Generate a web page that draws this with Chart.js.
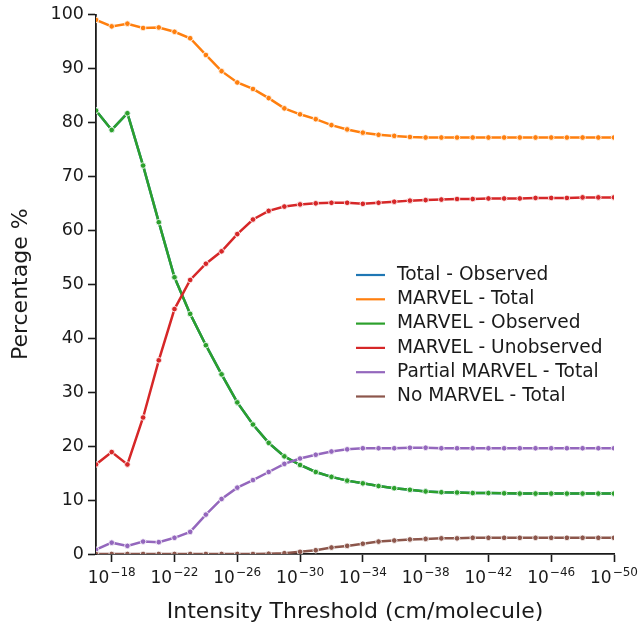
<!DOCTYPE html>
<html lang="es">
<head>
<meta charset="UTF-8">
<title>Umbral de intensidad</title>
<script src="https://cdn.jsdelivr.net/npm/chart.js@4.4.1/dist/chart.umd.min.js"></script>
<style>
    html, body { margin: 0; padding: 0; background: #ffffff; }
    #grafico { display: block; }
</style>
</head>
<body>
<canvas id="grafico" width="642" height="627"></canvas>
<script>
// Exponentes del umbral de intensidad (10^n cm/molecule), uno por década
const exponentes = [-17, -18, -19, -20, -21, -22, -23, -24, -25, -26, -27, -28, -29, -30, -31, -32, -33,
    -34, -35, -36, -37, -38, -39, -40, -41, -42, -43, -44, -45, -46, -47, -48, -49, -50];

// Marcas del eje X y del eje Y
const ticksExponentes = [-18, -22, -26, -30, -34, -38, -42, -46, -50];
const ticksPorcentaje = [0, 10, 20, 30, 40, 50, 60, 70, 80, 90, 100];

// Porcentajes por serie
const totalObservado = [82.2, 78.6, 81.7, 72.0, 61.5, 51.3, 44.5, 38.7, 33.3, 28.1, 24.0, 20.6, 18.1, 16.5, 15.2, 14.3, 13.6,
    13.1, 12.6, 12.2, 11.9, 11.6, 11.45, 11.4, 11.3, 11.3, 11.25, 11.2, 11.2, 11.2, 11.2, 11.2, 11.2, 11.2];
const marvelTotal = [99.0, 97.8, 98.3, 97.5, 97.6, 96.8, 95.6, 92.5, 89.5, 87.4, 86.2, 84.5, 82.6, 81.5, 80.6, 79.5, 78.7,
    78.1, 77.7, 77.5, 77.3, 77.2, 77.2, 77.2, 77.2, 77.2, 77.2, 77.2, 77.2, 77.2, 77.2, 77.2, 77.2, 77.2];
const marvelObservado = [82.2, 78.6, 81.7, 72.0, 61.5, 51.3, 44.5, 38.7, 33.3, 28.1, 24.0, 20.6, 18.1, 16.5, 15.2, 14.3, 13.6,
    13.1, 12.6, 12.2, 11.9, 11.6, 11.45, 11.4, 11.3, 11.3, 11.25, 11.2, 11.2, 11.2, 11.2, 11.2, 11.2, 11.2];
const marvelNoObservado = [16.6, 18.9, 16.6, 25.3, 35.9, 45.4, 50.8, 53.8, 56.1, 59.3, 62.0, 63.6, 64.4, 64.8, 65.0, 65.1, 65.1,
    64.9, 65.1, 65.3, 65.5, 65.6, 65.7, 65.8, 65.8, 65.9, 65.9, 65.9, 66.0, 66.0, 66.0, 66.1, 66.1, 66.1];
const marvelParcial = [0.8, 2.1, 1.5, 2.3, 2.2, 3.0, 4.1, 7.3, 10.2, 12.3, 13.7, 15.2, 16.7, 17.7, 18.4, 19.0, 19.4,
    19.6, 19.6, 19.6, 19.7, 19.7, 19.6, 19.6, 19.6, 19.6, 19.6, 19.6, 19.6, 19.6, 19.6, 19.6, 19.6, 19.6];
const sinMarvel = [0, 0, 0, 0, 0, 0, 0, 0, 0, 0, 0.0, 0.05, 0.15, 0.4, 0.7, 1.2, 1.5,
    1.9, 2.3, 2.5, 2.7, 2.8, 2.9, 2.9, 3.0, 3.0, 3.0, 3.0, 3.0, 3.0, 3.0, 3.0, 3.0, 3.0];

const etiquetas = ['Total - Observed', 'MARVEL - Total', 'MARVEL - Observed', 'MARVEL - Unobserved',
    'Partial MARVEL - Total', 'No MARVEL - Total'];
const colores = ['#1f77b4', '#ff7f0e', '#2ca02c', '#d62728', '#9467bd', '#8c564b'];

const FUENTE = '"DejaVu Sans", "Liberation Sans", sans-serif';
const COLOR_TEXTO = '#1a1a1a';

// Etiquetas del eje X como potencia de diez: "10" y el exponente en superíndice
const etiquetasPotencia = {
    id: 'etiquetasPotencia',
    afterDraw(chart) {
        const ctx = chart.ctx;
        const escala = chart.scales.x;
        const yBase = escala.top + 29;
        ctx.save();
        ctx.fillStyle = COLOR_TEXTO;
        ctx.textBaseline = 'alphabetic';
        ctx.textAlign = 'left';
        escala.ticks.forEach(t => {
            const base = '10';
            const exp = '\u2212' + Math.abs(t.value);
            ctx.font = '17px ' + FUENTE;
            const anchoBase = ctx.measureText(base).width;
            ctx.font = '12px ' + FUENTE;
            const anchoExp = ctx.measureText(exp).width;
            const x = escala.getPixelForValue(t.value) - (anchoBase + 1 + anchoExp) / 2;
            ctx.font = '17px ' + FUENTE;
            ctx.fillText(base, x, yBase);
            ctx.font = '12px ' + FUENTE;
            ctx.fillText(exp, x + anchoBase + 1, yBase - 7);
        });
        ctx.restore();
    }
};

// Leyenda sin marco dentro del área del gráfico
const leyendaInterna = {
    id: 'leyendaInterna',
    afterDatasetsDraw(chart) {
        const ctx = chart.ctx;
        const area = chart.chartArea;
        const x0 = area.left + 260;
        const y0 = area.top + 260.5;
        ctx.save();
        ctx.font = '18.6px ' + FUENTE;
        ctx.textBaseline = 'middle';
        ctx.textAlign = 'left';
        chart.data.datasets.forEach((ds, i) => {
            const y = y0 + i * 24.3;
            ctx.strokeStyle = ds.borderColor;
            ctx.lineWidth = 2.2;
            ctx.beginPath();
            ctx.moveTo(x0, y);
            ctx.lineTo(x0 + 29, y);
            ctx.stroke();
            ctx.fillStyle = COLOR_TEXTO;
            ctx.fillText(ds.label, x0 + 41, y);
        });
        ctx.restore();
    }
};

const series = [totalObservado, marvelTotal, marvelObservado, marvelNoObservado, marvelParcial, sinMarvel];

const datasets = series.map((valores, i) => ({
    label: etiquetas[i],
    data: valores.map((v, j) => ({ x: exponentes[j], y: v })),
    borderColor: colores[i],
    backgroundColor: colores[i],
    borderWidth: 2.5,
    pointRadius: 2.8,
    pointBorderWidth: 1,
    pointBorderColor: 'rgba(255,255,255,0.8)',
    pointBackgroundColor: colores[i],
    tension: 0,
    fill: false,
    // las series posteriores se dibujan encima
    order: series.length - i
}));

const ctxGrafico = document.getElementById('grafico').getContext('2d');
new Chart(ctxGrafico, {
    type: 'line',
    data: { datasets: datasets },
    options: {
        responsive: false,
        animation: false,
        layout: { padding: { top: 14.5, right: 28, bottom: 0, left: 0 } },
        plugins: {
            legend: { display: false },
            tooltip: { enabled: false }
        },
        scales: {
            x: {
                type: 'linear',
                reverse: true,
                min: -50,
                max: -17,
                afterBuildTicks: scale => {
                    scale.ticks = ticksExponentes.map(v => ({ value: v }));
                },
                afterFit: scale => { scale.height = 73; },
                grid: {
                    drawOnChartArea: false,
                    drawTicks: true,
                    tickLength: 8,
                    tickWidth: 1.6,
                    tickColor: COLOR_TEXTO
                },
                border: { display: true, color: COLOR_TEXTO, width: 1.8 },
                ticks: {
                    // el texto lo dibuja etiquetasPotencia
                    callback: () => '',
                    maxRotation: 0,
                    autoSkip: false
                },
                title: {
                    display: true,
                    text: 'Intensity Threshold (cm/molecule)',
                    color: COLOR_TEXTO,
                    font: { family: FUENTE, size: 22 },
                    padding: { top: 0, bottom: 1.5 }
                }
            },
            y: {
                min: 0,
                max: 100,
                afterBuildTicks: scale => {
                    scale.ticks = ticksPorcentaje.map(v => ({ value: v }));
                },
                afterFit: scale => { scale.width = 96; },
                grid: {
                    drawOnChartArea: false,
                    drawTicks: true,
                    tickLength: 8,
                    tickWidth: 1.6,
                    tickColor: COLOR_TEXTO
                },
                border: { display: true, color: COLOR_TEXTO, width: 1.8 },
                ticks: {
                    color: COLOR_TEXTO,
                    font: { family: FUENTE, size: 17.5 },
                    padding: 4
                },
                title: {
                    display: true,
                    text: 'Percentage %',
                    color: COLOR_TEXTO,
                    font: { family: FUENTE, size: 22 },
                    padding: { top: 8, bottom: 0 }
                }
            }
        }
    },
    plugins: [leyendaInterna, etiquetasPotencia]
});
</script>
</body>
</html>
